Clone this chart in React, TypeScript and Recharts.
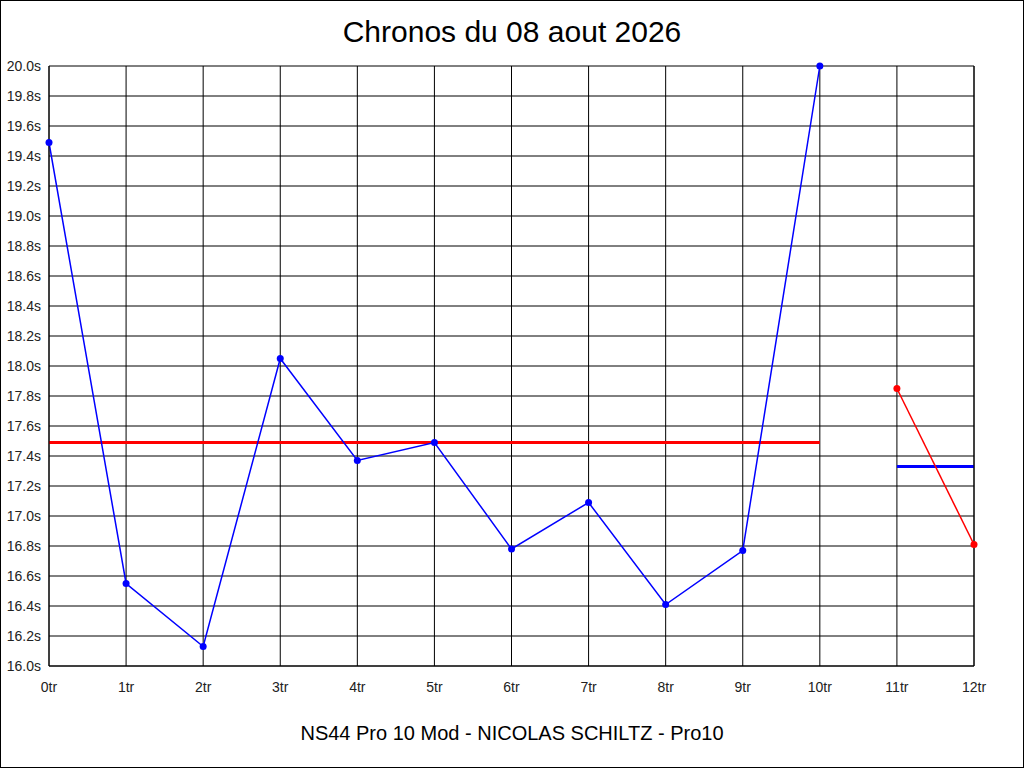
import { LineChart, Line, XAxis, YAxis, CartesianGrid } from "recharts";

// lap index (x axis) and chrono per lap, in seconds
const laps = [0, 1, 2, 3, 4, 5, 6, 7, 8, 9, 10, 11, 12];
const chronosRun1 = [19.49, 16.55, 16.13, 18.05, 17.37, 17.49, 16.78, 17.09, 16.41, 16.77, 20.0, null, null];
const averageRun1 = [17.49, 17.49, 17.49, 17.49, 17.49, 17.49, 17.49, 17.49, 17.49, 17.49, 17.49, null, null];
const chronosRun2 = [null, null, null, null, null, null, null, null, null, null, null, 17.85, 16.81];
const averageRun2 = [null, null, null, null, null, null, null, null, null, null, null, 17.33, 17.33];

const yTicks = [16.0, 16.2, 16.4, 16.6, 16.8, 17.0, 17.2, 17.4, 17.6, 17.8, 18.0, 18.2, 18.4, 18.6, 18.8, 19.0, 19.2, 19.4, 19.6, 19.8, 20.0];

const data = laps.map((lap, i) => ({
  lap,
  run1: chronosRun1[i],
  avg1: averageRun1[i],
  run2: chronosRun2[i],
  avg2: averageRun2[i],
}));

const tickStyle = { fill: "#222", fontSize: 14, fontFamily: "Liberation Sans, Arial, sans-serif" };
const fmtSec = (v: number) => `${v.toFixed(1)}s`;

export default function App() {
  return (
    <div
      style={{
        position: "absolute",
        left: 0,
        top: 0,
        width: 1024,
        height: 768,
        boxSizing: "border-box",
        border: "1px solid #000",
        background: "#fff",
        fontFamily: "Liberation Sans, Arial, sans-serif",
      }}
    >
      <div
        style={{
          position: "absolute",
          left: 0,
          top: 14,
          width: 1022,
          textAlign: "center",
          fontSize: 30,
          color: "#000",
        }}
      >
        Chronos du 08 aout 2026
      </div>
      <div style={{ position: "absolute", left: -1, top: -1 }}>
        <LineChart width={1024} height={768} data={data} margin={{ top: 66, right: 0, bottom: 72, left: 0 }}>
          <CartesianGrid yAxisId="left" stroke="#000" strokeWidth={1} />
          <XAxis
            dataKey="lap"
            type="number"
            domain={[0, 12]}
            ticks={laps}
            tickFormatter={(v) => `${v}tr`}
            tick={tickStyle}
            tickLine={false}
            tickMargin={10}
            axisLine={{ stroke: "#000" }}
            height={30}
          />
          <YAxis
            yAxisId="left"
            orientation="left"
            domain={[16, 20]}
            ticks={yTicks}
            tickFormatter={fmtSec}
            tick={tickStyle}
            tickLine={false}
            tickMargin={2}
            axisLine={{ stroke: "#000" }}
            width={49}
          />
          <YAxis
            yAxisId="right"
            orientation="right"
            domain={[16, 20]}
            ticks={yTicks}
            tickFormatter={fmtSec}
            tick={tickStyle}
            tickLine={false}
            tickMargin={2}
            axisLine={{ stroke: "#000" }}
            width={50}
          />
          <Line
            yAxisId="left"
            dataKey="avg1"
            type="linear"
            stroke="#ff0000"
            strokeWidth={3}
            dot={false}
            isAnimationActive={false}
          />
          <Line
            yAxisId="left"
            dataKey="avg2"
            type="linear"
            stroke="#0000ff"
            strokeWidth={3}
            dot={false}
            isAnimationActive={false}
          />
          <Line
            yAxisId="left"
            dataKey="run1"
            type="linear"
            stroke="#0000ff"
            strokeWidth={1.5}
            dot={{ r: 3.5, fill: "#0000ff", stroke: "#0000ff", strokeWidth: 0 }}
            isAnimationActive={false}
          />
          <Line
            yAxisId="left"
            dataKey="run2"
            type="linear"
            stroke="#ff0000"
            strokeWidth={1.5}
            dot={{ r: 3.5, fill: "#ff0000", stroke: "#ff0000", strokeWidth: 0 }}
            isAnimationActive={false}
          />
        </LineChart>
      </div>
      <div
        style={{
          position: "absolute",
          left: 0,
          top: 721,
          width: 1022,
          textAlign: "center",
          fontSize: 20,
          color: "#000",
        }}
      >
        NS44 Pro 10 Mod - NICOLAS SCHILTZ - Pro10
      </div>
    </div>
  );
}
